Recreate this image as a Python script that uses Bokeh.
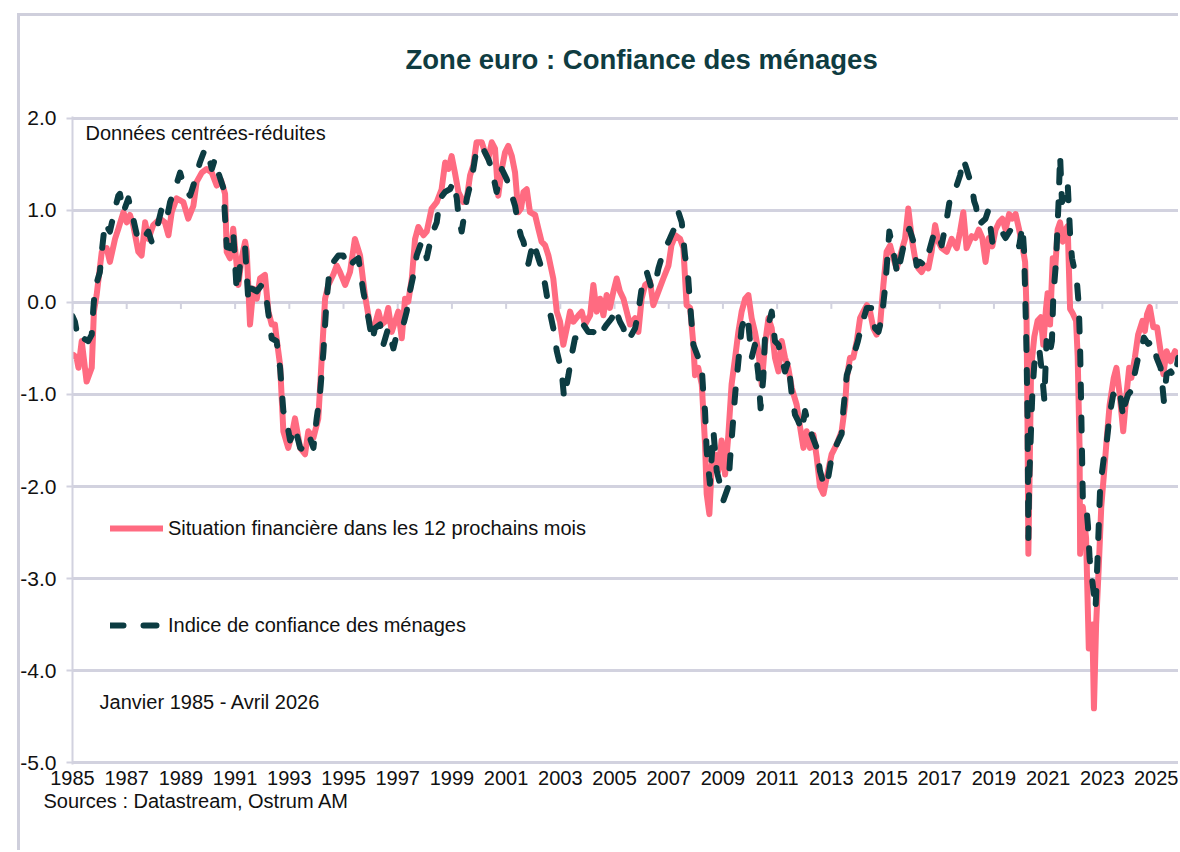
from bokeh.plotting import figure
from bokeh.models import (Range1d, FixedTicker, PrintfTickFormatter, Label,
                          Legend, LegendItem, Title)
from bokeh.embed import file_html
from bokeh.resources import INLINE

FONT = "Liberation Sans"

# ---- data (decimal years, standardised values) ----
fin_dates = [
    1985.03, 1985.15, 1985.22, 1985.34, 1985.52, 1985.71, 1985.79, 1985.89, 1986.08, 1986.26,
    1986.38, 1986.57, 1986.69, 1986.88, 1987.00, 1987.12, 1987.24, 1987.43, 1987.55, 1987.68,
    1987.80, 1987.98, 1988.23, 1988.41, 1988.54, 1988.66, 1988.84, 1989.09, 1989.27, 1989.46,
    1989.58, 1989.77, 1989.95, 1990.14, 1990.32, 1990.48, 1990.63, 1990.69, 1990.81, 1990.93,
    1991.06, 1991.12, 1991.24, 1991.37, 1991.43, 1991.55, 1991.67, 1991.80, 1991.92, 1992.10,
    1992.23, 1992.35, 1992.47, 1992.53, 1992.66, 1992.78, 1992.96, 1993.09, 1993.21, 1993.40,
    1993.58, 1993.70, 1993.89, 1994.07, 1994.19, 1994.32, 1994.44, 1994.62, 1994.75, 1994.87,
    1995.06, 1995.24, 1995.42, 1995.61, 1995.79, 1995.98, 1996.16, 1996.29, 1996.41, 1996.53,
    1996.65, 1996.78, 1996.90, 1997.02, 1997.15, 1997.27, 1997.39, 1997.52, 1997.64, 1997.76,
    1997.95, 1998.07, 1998.25, 1998.44, 1998.62, 1998.75, 1998.87, 1998.99, 1999.11, 1999.24,
    1999.42, 1999.55, 1999.67, 1999.79, 1999.91, 2000.10, 2000.22, 2000.34, 2000.47, 2000.59,
    2000.71, 2000.84, 2000.96, 2001.08, 2001.21, 2001.33, 2001.45, 2001.55, 2001.64, 2001.76,
    2001.88, 2002.07, 2002.19, 2002.31, 2002.44, 2002.56, 2002.74, 2002.87, 2002.99, 2003.11,
    2003.24, 2003.36, 2003.48, 2003.67, 2003.79, 2003.91, 2004.10, 2004.22, 2004.34, 2004.47,
    2004.59, 2004.71, 2004.83, 2004.96, 2005.08, 2005.20, 2005.33, 2005.45, 2005.57, 2005.76,
    2005.88, 2006.00, 2006.13, 2006.31, 2006.43, 2006.62, 2006.80, 2006.99, 2007.10, 2007.25,
    2007.42, 2007.54, 2007.66, 2007.79, 2007.91, 2007.97, 2008.09, 2008.22, 2008.34, 2008.40,
    2008.50, 2008.59, 2008.71, 2008.83, 2008.95, 2009.08, 2009.20, 2009.32, 2009.45, 2009.57,
    2009.69, 2009.82, 2009.94, 2010.06, 2010.18, 2010.31, 2010.43, 2010.55, 2010.68, 2010.80,
    2010.92, 2011.05, 2011.17, 2011.29, 2011.41, 2011.54, 2011.72, 2011.85, 2011.97, 2012.09,
    2012.21, 2012.34, 2012.46, 2012.58, 2012.71, 2012.83, 2013.01, 2013.20, 2013.38, 2013.51,
    2013.57, 2013.69, 2013.81, 2013.94, 2014.06, 2014.18, 2014.31, 2014.43, 2014.55, 2014.67,
    2014.80, 2014.92, 2015.04, 2015.17, 2015.29, 2015.41, 2015.54, 2015.72, 2015.84, 2015.97,
    2016.09, 2016.21, 2016.33, 2016.46, 2016.58, 2016.70, 2016.83, 2016.95, 2017.07, 2017.26,
    2017.44, 2017.63, 2017.75, 2017.87, 2017.99, 2018.18, 2018.32, 2018.44, 2018.57, 2018.69,
    2018.81, 2018.94, 2019.06, 2019.19, 2019.31, 2019.43, 2019.56, 2019.68, 2019.80, 2019.93,
    2020.05, 2020.15, 2020.20, 2020.24, 2020.27, 2020.32, 2020.37, 2020.49, 2020.61, 2020.73,
    2020.82, 2020.92, 2020.98, 2021.07, 2021.17, 2021.26, 2021.35, 2021.44, 2021.54, 2021.64,
    2021.72, 2021.81, 2021.91, 2022.03, 2022.09, 2022.16, 2022.18, 2022.28, 2022.40, 2022.50,
    2022.63, 2022.69, 2022.77, 2022.87, 2022.96, 2023.08, 2023.17, 2023.27, 2023.42, 2023.52,
    2023.64, 2023.77, 2023.89, 2023.99, 2024.07, 2024.20, 2024.32, 2024.48, 2024.57, 2024.65,
    2024.75, 2024.88, 2025.02, 2025.15, 2025.25, 2025.37, 2025.52, 2025.68, 2025.84, 2025.99,
]
fin_values = [
    -0.57, -0.60, -0.71, -0.42, -0.86, -0.71, -0.10, 0.08, 0.55, 0.59,
    0.44, 0.69, 0.80, 0.98, 0.87, 0.95, 0.84, 0.55, 0.51, 0.87,
    0.69, 0.84, 0.91, 0.87, 0.73, 0.98, 1.13, 1.09, 0.91, 1.05,
    1.31, 1.41, 1.45, 1.41, 1.27, 1.33, 1.18, 0.55, 0.48, 0.80,
    0.40, 0.19, 0.48, 0.66, 0.55, -0.24, 0.15, 0.04, 0.26, 0.30,
    -0.10, -0.24, -0.24, -0.39, -0.68, -1.40, -1.58, -1.44, -1.26, -1.58,
    -1.65, -1.40, -1.47, -1.26, -0.64, 0.04, 0.19, 0.30, 0.40, 0.33,
    0.19, 0.33, 0.69, 0.51, 0.08, -0.25, -0.24, -0.10, -0.24, -0.21,
    -0.06, -0.32, -0.21, -0.10, -0.39, 0.04, 0.01, 0.26, 0.69, 0.82,
    0.73, 0.77, 1.02, 1.09, 1.23, 1.52, 1.45, 1.59, 1.41, 1.20,
    1.09, 1.13, 1.38, 1.49, 1.74, 1.74, 1.63, 1.56, 1.74, 1.67,
    1.16, 1.45, 1.63, 1.70, 1.59, 1.41, 0.98, 1.02, 1.20, 1.23,
    0.98, 0.95, 0.80, 0.66, 0.62, 0.51, 0.26, -0.10, -0.21, -0.46,
    -0.28, -0.10, -0.21, -0.14, -0.10, -0.24, -0.14, 0.19, -0.10, 0.04,
    -0.14, 0.08, -0.06, 0.12, 0.26, 0.12, 0.04, -0.10, -0.24, -0.17,
    -0.32, 0.04, 0.19, 0.23, -0.03, 0.12, 0.26, 0.40, 0.62, 0.73,
    0.69, 0.59, -0.03, -0.06, -0.46, -0.79, -0.71, -0.89, -1.54, -2.08,
    -2.30, -1.76, -1.65, -1.83, -1.50, -1.87, -1.44, -0.89, -0.60, -0.32,
    -0.10, 0.04, 0.08, -0.17, -0.32, -0.53, -0.89, -0.46, -0.17, -0.28,
    -0.60, -0.75, -0.42, -0.60, -0.71, -0.93, -1.11, -1.36, -1.58, -1.40,
    -1.58, -1.44, -1.68, -2.00, -2.08, -1.90, -1.65, -1.54, -1.40, -1.11,
    -0.82, -0.60, -0.60, -0.42, -0.17, -0.10, -0.03, -0.10, -0.28, -0.35,
    -0.24, 0.19, 0.55, 0.62, 0.48, 0.37, 0.51, 0.69, 1.02, 0.69,
    0.48, 0.37, 0.33, 0.40, 0.37, 0.55, 0.84, 0.66, 0.59, 0.55,
    0.69, 0.59, 0.77, 0.98, 0.59, 0.72, 0.70, 0.79, 0.70, 0.44,
    0.70, 0.61, 0.79, 0.87, 0.91, 0.79, 0.96, 0.91, 0.96, 0.79,
    0.61, 0.44, -0.07, -1.36, -2.73, -1.79, -0.72, -0.37, -0.20, -0.16,
    -0.46, -0.07, 0.10, -0.24, 0.48, 0.36, 0.79, 0.87, 0.66, 0.79,
    0.83, -0.07, -0.12, -0.20, -0.59, -1.58, -2.73, -2.22, -2.56, -3.76,
    -3.50, -4.41, -3.50, -2.86, -2.22, -1.79, -1.45, -1.11, -0.82, -0.71,
    -1.00, -1.40, -1.00, -0.71, -0.82, -0.60, -0.35, -0.20, -0.31, -0.13,
    -0.05, -0.27, -0.27, -0.53, -0.78, -0.53, -0.64, -0.53, -0.60, -0.53,
]

conf_dates = [
    1985.00, 1985.09, 1985.22, 1985.40, 1985.58, 1985.71, 1985.77, 1985.83, 1986.01, 1986.08,
    1986.20, 1986.32, 1986.38, 1986.57, 1986.69, 1986.75, 1986.88, 1987.06, 1987.24, 1987.43,
    1987.61, 1987.80, 1987.92, 1988.11, 1988.29, 1988.48, 1988.60, 1988.78, 1988.97, 1989.15,
    1989.34, 1989.46, 1989.70, 1989.89, 1990.01, 1990.14, 1990.26, 1990.38, 1990.57, 1990.69,
    1990.81, 1990.93, 1991.06, 1991.18, 1991.37, 1991.49, 1991.61, 1991.80, 1991.98, 1992.17,
    1992.35, 1992.53, 1992.66, 1992.78, 1992.90, 1993.03, 1993.21, 1993.40, 1993.58, 1993.76,
    1993.89, 1994.01, 1994.13, 1994.26, 1994.38, 1994.50, 1994.63, 1994.81, 1994.99, 1995.18,
    1995.36, 1995.55, 1995.73, 1995.92, 1996.06, 1996.16, 1996.35, 1996.47, 1996.65, 1996.84,
    1996.96, 1997.08, 1997.21, 1997.33, 1997.45, 1997.58, 1997.70, 1997.88, 1998.07, 1998.25,
    1998.44, 1998.56, 1998.75, 1998.93, 1999.05, 1999.18, 1999.24, 1999.36, 1999.55, 1999.73,
    1999.91, 2000.10, 2000.22, 2000.34, 2000.47, 2000.65, 2000.84, 2001.02, 2001.14, 2001.33,
    2001.45, 2001.55, 2001.64, 2001.82, 2002.00, 2002.19, 2002.31, 2002.44, 2002.56, 2002.74,
    2002.87, 2003.05, 2003.14, 2003.30, 2003.42, 2003.54, 2003.73, 2003.85, 2004.03, 2004.22,
    2004.34, 2004.53, 2004.71, 2004.90, 2005.02, 2005.20, 2005.33, 2005.45, 2005.63, 2005.76,
    2005.88, 2006.00, 2006.19, 2006.37, 2006.49, 2006.62, 2006.80, 2006.99, 2007.17, 2007.36,
    2007.48, 2007.60, 2007.72, 2007.79, 2007.91, 2008.09, 2008.22, 2008.28, 2008.34, 2008.40,
    2008.52, 2008.65, 2008.77, 2008.89, 2009.02, 2009.20, 2009.26, 2009.32, 2009.45, 2009.57,
    2009.69, 2009.82, 2009.94, 2010.06, 2010.18, 2010.31, 2010.39, 2010.49, 2010.55, 2010.68,
    2010.80, 2010.92, 2011.05, 2011.17, 2011.29, 2011.41, 2011.54, 2011.66, 2011.78, 2011.91,
    2012.03, 2012.15, 2012.28, 2012.46, 2012.58, 2012.71, 2012.83, 2013.01, 2013.20, 2013.38,
    2013.44, 2013.57, 2013.69, 2013.87, 2013.98, 2014.12, 2014.31, 2014.49, 2014.61, 2014.74,
    2014.86, 2014.98, 2015.04, 2015.14, 2015.29, 2015.44, 2015.54, 2015.72, 2015.88, 2016.03,
    2016.15, 2016.27, 2016.46, 2016.64, 2016.77, 2016.95, 2017.07, 2017.26, 2017.38, 2017.50,
    2017.75, 2017.87, 2017.99, 2018.18, 2018.27, 2018.34, 2018.43, 2018.69, 2018.79, 2018.94,
    2019.06, 2019.25, 2019.43, 2019.62, 2019.80, 2019.93, 2020.05, 2020.11, 2020.15, 2020.20,
    2020.24, 2020.27, 2020.30, 2020.36, 2020.42, 2020.49, 2020.57, 2020.67, 2020.77, 2020.86,
    2020.94, 2021.04, 2021.14, 2021.19, 2021.29, 2021.39, 2021.44, 2021.51, 2021.64, 2021.72,
    2021.81, 2021.88, 2022.06, 2022.13, 2022.18, 2022.22, 2022.28, 2022.40, 2022.47, 2022.53,
    2022.65, 2022.75, 2022.84, 2022.92, 2023.05, 2023.15, 2023.27, 2023.40, 2023.52, 2023.64,
    2023.77, 2023.83, 2023.95, 2024.07, 2024.16, 2024.32, 2024.44, 2024.53, 2024.69, 2024.88,
    2025.00, 2025.15, 2025.27, 2025.37, 2025.52, 2025.68, 2025.80, 2025.93,
]
conf_values = [
    -0.15, -0.21, -0.42, -0.39, -0.42, -0.35, -0.06, 0.15, 0.33, 0.55,
    0.87, 0.80, 0.77, 1.02, 1.16, 1.18, 0.98, 1.13, 0.91, 0.66,
    0.69, 0.77, 0.66, 0.80, 1.02, 0.91, 1.09, 1.23, 1.41, 1.23,
    1.16, 1.27, 1.52, 1.67, 1.61, 1.45, 1.56, 1.41, 1.24, 0.60,
    0.59, 0.77, 0.12, 0.40, 0.59, 0.01, 0.15, 0.12, 0.19, 0.01,
    -0.39, -0.42, -0.71, -1.18, -1.29, -1.50, -1.36, -1.58, -1.61, -1.47,
    -1.58, -1.26, -1.00, -0.53, 0.04, 0.40, 0.44, 0.51, 0.51, 0.37,
    0.44, 0.48, 0.12, -0.17, -0.42, -0.28, -0.24, -0.46, -0.28, -0.50,
    -0.35, -0.28, -0.24, -0.10, 0.12, 0.30, 0.51, 0.66, 0.48, 0.73,
    0.87, 1.13, 1.20, 1.23, 1.31, 1.13, 0.95, 0.77, 1.13, 1.34,
    1.67, 1.70, 1.63, 1.56, 1.45, 1.20, 1.45, 1.34, 1.23, 1.05,
    0.84, 0.72, 0.66, 0.42, 0.66, 0.48, 0.37, 0.19, -0.03, -0.28,
    -0.53, -0.75, -1.04, -0.79, -0.57, -0.39, -0.39, -0.24, -0.32, -0.32,
    -0.39, -0.32, -0.24, -0.17, -0.06, -0.21, -0.28, -0.42, -0.35, -0.28,
    -0.10, 0.15, 0.33, 0.15, 0.19, 0.37, 0.55, 0.66, 0.78, 0.98,
    0.87, 0.51, 0.26, -0.03, -0.46, -0.60, -0.71, -1.00, -1.18, -1.61,
    -1.97, -1.40, -1.83, -1.97, -2.15, -2.00, -1.72, -1.50, -1.00, -0.64,
    -0.28, -0.14, -0.24, -0.60, -0.46, -0.79, -1.15, -0.82, -0.39, -0.24,
    -0.10, -0.42, -0.46, -0.60, -0.75, -0.64, -1.00, -1.22, -1.29, -1.40,
    -1.18, -1.32, -1.44, -1.58, -1.83, -1.97, -2.00, -1.68, -1.54, -1.43,
    -1.18, -0.79, -0.68, -0.53, -0.42, -0.24, -0.06, -0.06, -0.28, -0.32,
    -0.17, 0.15, 0.37, 0.77, 0.55, 0.30, 0.44, 0.69, 0.80, 0.66,
    0.40, 0.44, 0.40, 0.59, 0.73, 0.77, 0.62, 0.91, 1.13, 1.16,
    1.38, 1.56, 1.45, 1.27, 1.10, 1.04, 0.84, 0.91, 1.00, 0.66,
    0.74, 0.79, 0.70, 0.79, 0.74, 0.61, 0.83, 0.57, 0.14, -0.50,
    -1.27, -2.56, -1.96, -1.45, -0.97, -0.67, -0.59, -0.50, -0.76, -1.06,
    -0.42, -0.59, -0.42, 0.06, 0.44, 1.13, 1.60, 1.09, 1.17, 1.30,
    0.74, 0.48, 0.23, -0.03, -0.50, -1.15, -2.13, -2.18, -2.43, -2.78,
    -3.08, -3.33, -2.65, -2.00, -1.70, -1.55, -1.22, -1.00, -1.04, -0.96,
    -1.25, -1.11, -1.00, -0.96, -0.82, -0.60, -0.53, -0.38, -0.45, -0.42,
    -0.60, -0.71, -1.07, -0.78, -0.75, -0.82, -0.60, -0.71,
]

year_ticks = [1985, 1987, 1989, 1991, 1993, 1995, 1997, 1999, 2001, 2003, 2005,
              2007, 2009, 2011, 2013, 2015, 2017, 2019, 2021, 2023, 2025]
value_ticks = [-5, -4, -3, -2, -1, 0, 1, 2]

series_names = ["Situation financière dans les 12 prochains mois",
                "Indice de confiance des ménages"]
title_text = "Zone euro : Confiance des ménages"
note_text = "Données centrées-réduites"
period_text = "Janvier 1985 - Avril 2026"
source_text = "Sources : Datastream, Ostrum AM"

RED = "#ff6b81"
DARK = "#0c3c42"
GRID = "#d2d2df"
FRAME = "#cfcfdc"
TXT = "#111111"

p = figure(width=1178, height=850,
           x_range=Range1d(1985.0, 2025.81), y_range=Range1d(-5.02, 2.02),
           output_backend="svg", toolbar_location=None,
           min_border_left=72, min_border_right=0, min_border_top=115, min_border_bottom=86)
# outer chart-area border (top and left), drawn as the host background
p.styles = {
    "background-image": f"linear-gradient({FRAME}, {FRAME}), linear-gradient({FRAME}, {FRAME})",
    "background-size": "100% 3px, 3px 100%",
    "background-position": "17px 13px, 17px 13px",
    "background-repeat": "no-repeat",
}
p.outline_line_color = None
p.background_fill_color = "white"
p.border_fill_alpha = 0

# title
p.title.text = title_text
p.title.align = "left"
p.title.offset = 333
p.title.text_font = FONT
p.title.text_font_style = "bold"
p.title.text_font_size = "27.5px"
p.title.text_color = "#0f3c41"
p.title.standoff = 83

# y axis
p.yaxis.ticker = FixedTicker(ticks=value_ticks)
p.yaxis.formatter = PrintfTickFormatter(format="%.1f")
p.yaxis.axis_line_color = GRID
p.yaxis.axis_line_width = 2
p.yaxis.major_tick_out = 6
p.yaxis.major_tick_in = 0
p.yaxis.major_tick_line_color = GRID
p.yaxis.major_tick_line_width = 2
p.yaxis.minor_tick_line_color = None
p.yaxis.major_label_text_font = FONT
p.yaxis.major_label_text_font_size = "21px"
p.yaxis.major_label_text_color = TXT
p.yaxis.major_label_standoff = 10

p.ygrid.ticker = FixedTicker(ticks=value_ticks)
p.ygrid.grid_line_color = GRID
p.ygrid.grid_line_width = 3
p.xgrid.grid_line_color = None

# x axis
p.xaxis.ticker = FixedTicker(ticks=year_ticks)
p.xaxis.axis_line_color = None
p.xaxis.major_tick_line_color = None
p.xaxis.minor_tick_line_color = None
p.xaxis.major_label_text_font = FONT
p.xaxis.major_label_text_font_size = "20px"
p.xaxis.major_label_text_color = TXT
p.xaxis.major_label_standoff = 0

# sources line under the axis
p.add_layout(Title(text=source_text, align="left", offset=-29, text_font=FONT,
                   text_font_size="20px", text_font_style="normal", text_color=TXT,
                   standoff=0), "below")

# small tick marks on the zero line
p.segment(x0=year_ticks, y0=[0] * len(year_ticks), x1=year_ticks, y1=[-0.07] * len(year_ticks),
          line_color=GRID, line_width=2)

r_fin = p.line(fin_dates, fin_values, line_color=RED, line_width=6,
               line_join="round", line_cap="round")
r_conf = p.line(conf_dates, conf_values, line_color=DARK, line_width=6,
                line_dash="13 20", line_cap="round", line_join="round")

legend = Legend(items=[LegendItem(label=series_names[0], renderers=[r_fin]),
                       LegendItem(label=series_names[1], renderers=[r_conf])],
                location=(38, 127), orientation="vertical", spacing=73,
                glyph_width=53, glyph_height=24, label_standoff=5,
                label_text_font=FONT, label_text_font_size="20px", label_text_color=TXT,
                background_fill_alpha=0, border_line_alpha=0, padding=0, margin=0)
p.add_layout(legend)

p.add_layout(Label(x=1985.48, y=1.837, text=note_text, text_font=FONT, text_font_size="20px",
                   text_color=TXT, text_align="left", text_baseline="middle"))
p.add_layout(Label(x=1986.0, y=-4.338, text=period_text, text_font=FONT, text_font_size="20px",
                   text_color=TXT, text_align="left", text_baseline="middle"))

open("out.html", "w").write(file_html(p, INLINE))
